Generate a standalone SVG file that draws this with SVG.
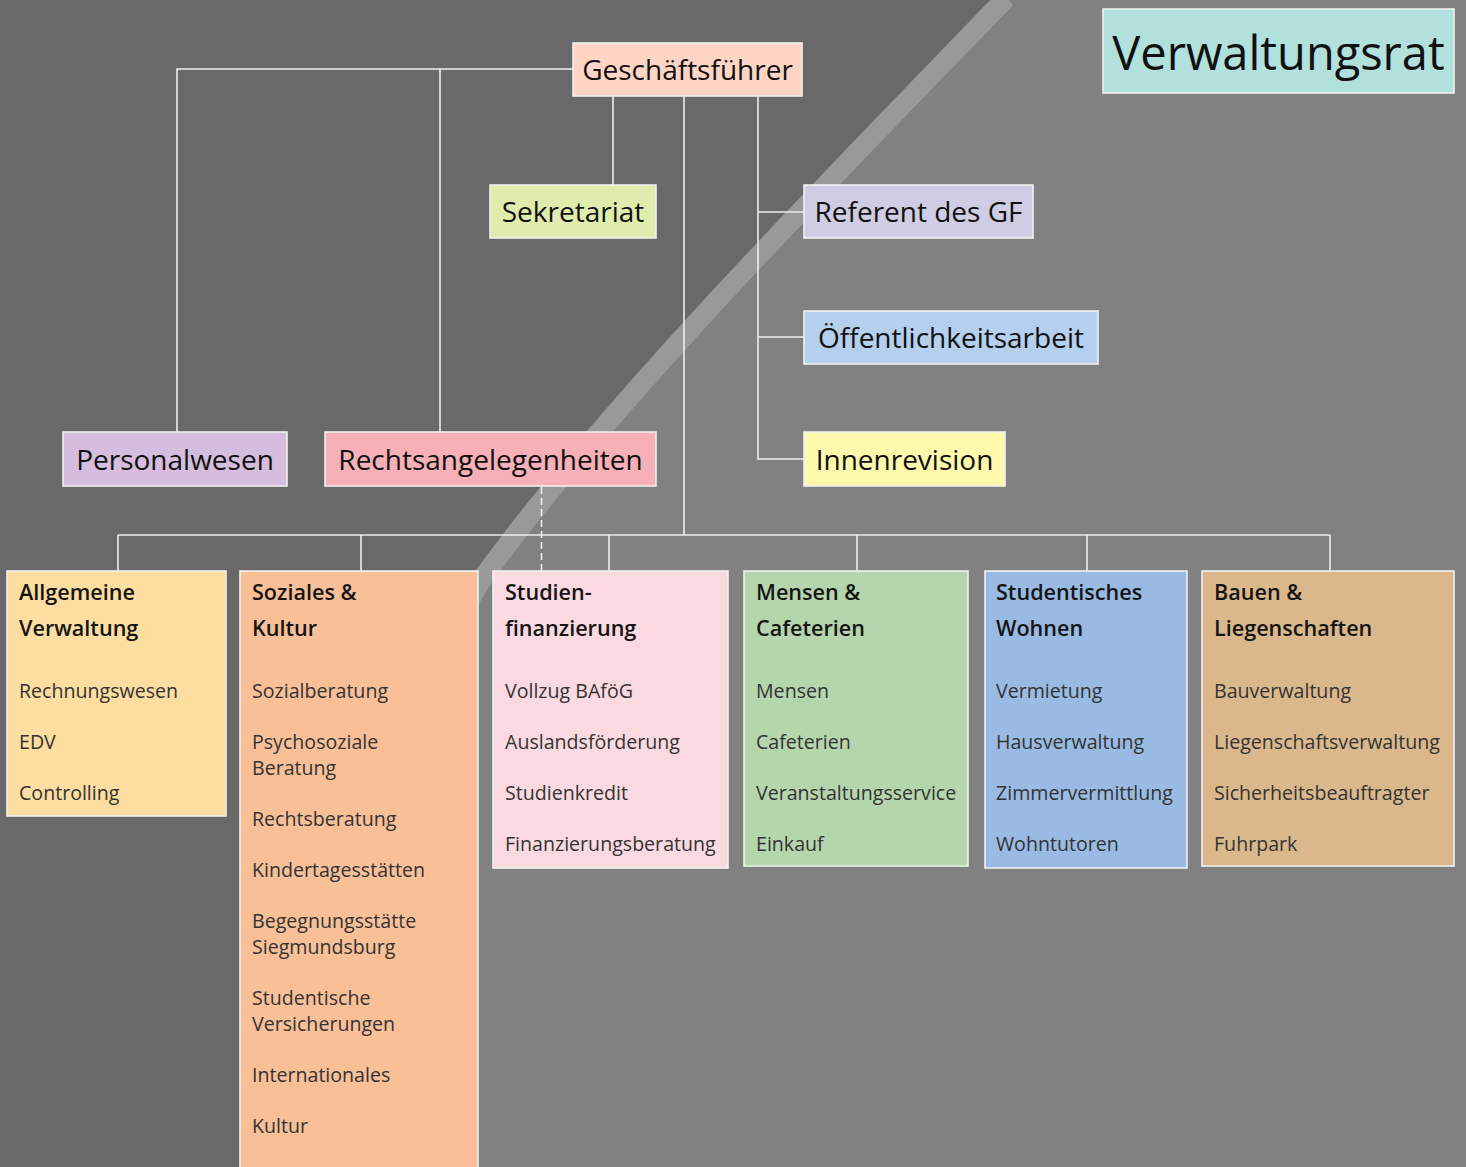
<svg xmlns="http://www.w3.org/2000/svg" width="1466" height="1167" viewBox="0 0 1466 1167">
<style>
.box{stroke:#f0f0f0;stroke-width:1.6}
.top{font-family:"Open Sans","Noto Sans",sans-serif;font-size:28px;fill:#111;text-anchor:middle}
.head{font-family:"Open Sans","Noto Sans",sans-serif;font-size:21.6px;font-weight:600;fill:#151515}
.item{font-family:"Open Sans","Noto Sans",sans-serif;font-size:19.6px;fill:#333}
.conn{stroke:#eeeeee;stroke-width:1.6;fill:none}
.dash{stroke:#eeeeee;stroke-width:1.6;fill:none;stroke-dasharray:7 4}
</style>
<g id="background">
<rect x="0" y="0" width="1466" height="1167" fill="#818181"/>
<path d="M0,0 L1004,0 C860,150 620,390 487,572 C420,665 380,900 360,1167 L0,1167 Z" fill="#696969"/>
<path d="M1006,-2 C860,150 620,390 487,572 C420,665 380,900 360,1167" fill="none" stroke="#999999" stroke-width="20"/>
</g>
<g id="connectors">
<polyline class="conn" points="573,69 177,69 177,432"/>
<line class="conn" x1="440" y1="69" x2="440" y2="432"/>
<line class="conn" x1="613" y1="96" x2="613" y2="185"/>
<line class="conn" x1="684" y1="96" x2="684" y2="535"/>
<polyline class="conn" points="758,96 758,459 804,459"/>
<line class="conn" x1="758" y1="212" x2="804" y2="212"/>
<line class="conn" x1="758" y1="337" x2="804" y2="337"/>
<line class="conn" x1="118" y1="535" x2="1330" y2="535"/>
<line class="conn" x1="118" y1="535" x2="118" y2="571"/>
<line class="conn" x1="361" y1="535" x2="361" y2="571"/>
<line class="conn" x1="609" y1="535" x2="609" y2="571"/>
<line class="conn" x1="857" y1="535" x2="857" y2="571"/>
<line class="conn" x1="1087" y1="535" x2="1087" y2="571"/>
<line class="conn" x1="1330" y1="535" x2="1330" y2="571"/>
<line class="dash" x1="541.5" y1="487" x2="541.5" y2="571"/>
</g>
<g id="verwaltungsrat">
<rect class="box" x="1103" y="9" width="351" height="84" fill="#b2e0dc"/>
<text x="1278.5" y="70" style="font-family:'Open Sans','Noto Sans',sans-serif;font-size:47px;fill:#111;text-anchor:middle">Verwaltungsrat</text>
</g>
<g id="geschaeftsfuehrer">
<rect class="box" x="573" y="43" width="229" height="53" fill="#fed5c4"/>
<text class="top" x="687.5" y="79.5">Geschäftsführer</text>
</g>
<g id="sekretariat">
<rect class="box" x="490" y="185" width="166" height="53" fill="#e0ebae"/>
<text class="top" x="573" y="221.5">Sekretariat</text>
</g>
<g id="referent">
<rect class="box" x="804" y="185" width="229" height="53" fill="#d0cce3"/>
<text class="top" x="918.5" y="221.5">Referent des GF</text>
</g>
<g id="oeffentlichkeitsarbeit">
<rect class="box" x="804" y="311" width="294" height="53" fill="#b5cfef"/>
<text class="top" x="951" y="347.5">Öffentlichkeitsarbeit</text>
</g>
<g id="innenrevision">
<rect class="box" x="804" y="432" width="201" height="54" fill="#fff9ae"/>
<text class="top" x="904.5" y="469.5">Innenrevision</text>
</g>
<g id="personalwesen">
<rect class="box" x="63" y="432" width="224" height="54" fill="#d6bcdd"/>
<text class="top" x="175" y="469.5">Personalwesen</text>
</g>
<g id="rechtsangelegenheiten">
<rect class="box" x="325" y="432" width="331" height="54" fill="#f7afb8"/>
<text class="top" x="490.5" y="469.5">Rechtsangelegenheiten</text>
</g>
<g id="allgemeine-verwaltung">
<rect class="box" x="7" y="571" width="219" height="245" fill="#fedda1"/>
<text class="head" x="19" y="600">Allgemeine</text>
<text class="head" x="19" y="636">Verwaltung</text>
<text class="item" x="19" y="698">Rechnungswesen</text>
<text class="item" x="19" y="749">EDV</text>
<text class="item" x="19" y="800">Controlling</text>
</g>
<g id="soziales-kultur">
<rect class="box" x="240" y="571" width="238" height="610" fill="#f9c098"/>
<text class="head" x="252" y="600">Soziales &amp;</text>
<text class="head" x="252" y="636">Kultur</text>
<text class="item" x="252" y="698">Sozialberatung</text>
<text class="item" x="252" y="749">Psychosoziale</text>
<text class="item" x="252" y="775">Beratung</text>
<text class="item" x="252" y="826">Rechtsberatung</text>
<text class="item" x="252" y="877">Kindertagesstätten</text>
<text class="item" x="252" y="928">Begegnungsstätte</text>
<text class="item" x="252" y="954">Siegmundsburg</text>
<text class="item" x="252" y="1005">Studentische</text>
<text class="item" x="252" y="1031">Versicherungen</text>
<text class="item" x="252" y="1082">Internationales</text>
<text class="item" x="252" y="1133">Kultur</text>
</g>
<g id="studienfinanzierung">
<rect class="box" x="493" y="571" width="235" height="297" fill="#fadae0"/>
<text class="head" x="505" y="600">Studien-</text>
<text class="head" x="505" y="636">finanzierung</text>
<text class="item" x="505" y="698">Vollzug BAföG</text>
<text class="item" x="505" y="749">Auslandsförderung</text>
<text class="item" x="505" y="800">Studienkredit</text>
<text class="item" x="505" y="851">Finanzierungsberatung</text>
</g>
<g id="mensen-cafeterien">
<rect class="box" x="744" y="571" width="224" height="295" fill="#b5d6ad"/>
<text class="head" x="756" y="600">Mensen &amp;</text>
<text class="head" x="756" y="636">Cafeterien</text>
<text class="item" x="756" y="698">Mensen</text>
<text class="item" x="756" y="749">Cafeterien</text>
<text class="item" x="756" y="800">Veranstaltungsservice</text>
<text class="item" x="756" y="851">Einkauf</text>
</g>
<g id="studentisches-wohnen">
<rect class="box" x="985" y="571" width="202" height="297" fill="#99bbe3"/>
<text class="head" x="996" y="600">Studentisches</text>
<text class="head" x="996" y="636">Wohnen</text>
<text class="item" x="996" y="698">Vermietung</text>
<text class="item" x="996" y="749">Hausverwaltung</text>
<text class="item" x="996" y="800">Zimmervermittlung</text>
<text class="item" x="996" y="851">Wohntutoren</text>
</g>
<g id="bauen-liegenschaften">
<rect class="box" x="1202" y="571" width="252" height="295" fill="#dbb88c"/>
<text class="head" x="1214" y="600">Bauen &amp;</text>
<text class="head" x="1214" y="636">Liegenschaften</text>
<text class="item" x="1214" y="698">Bauverwaltung</text>
<text class="item" x="1214" y="749">Liegenschaftsverwaltung</text>
<text class="item" x="1214" y="800">Sicherheitsbeauftragter</text>
<text class="item" x="1214" y="851">Fuhrpark</text>
</g>
</svg>
